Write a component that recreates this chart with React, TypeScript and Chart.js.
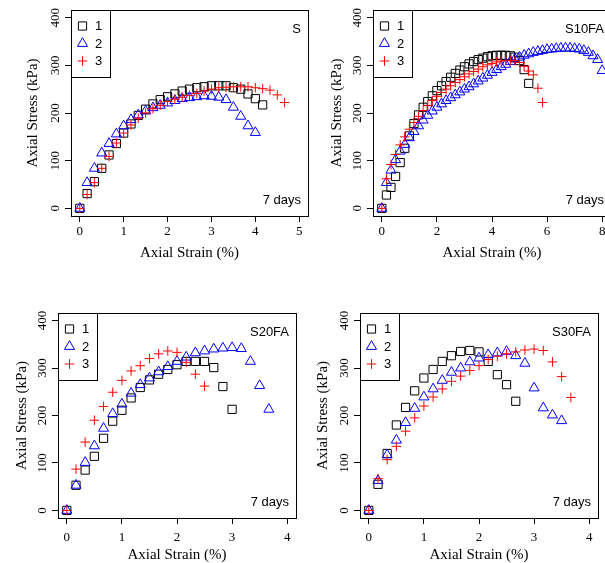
import React, { useEffect, useRef } from 'react';
import { Chart, registerables } from 'chart.js';

Chart.register(...registerables);

// ---------- DATA ----------
// strain readings (%), shared sampling step of the tests
const strainSteps = [0, 0.167, 0.333, 0.5, 0.667, 0.833, 1.0, 1.167, 1.333, 1.5, 1.667, 1.833, 2.0, 2.167, 2.333, 2.5, 2.667, 2.833, 3.0, 3.167, 3.333, 3.5, 3.667, 3.833, 4.0, 4.167, 4.333, 4.5, 4.667, 4.833, 5.0, 5.167, 5.333, 5.5, 5.667, 5.833, 6.0, 6.167, 6.333, 6.5, 6.667, 6.833, 7.0, 7.167, 7.333, 7.5, 7.667, 7.833, 8.0];

const seriesNames = ['1', '2', '3'];
const panelTitles = ['S', 'S10FA', 'S20FA', 'S30FA'];
const curingLabel = '7 days';
const xAxisTitle = 'Axial Strain (%)';
const yAxisTitle = 'Axial Stress (kPa)';

// axial stress (kPa)
const stressS_1 = [0, 31, 56, 84, 112, 136, 158, 177, 195, 208, 219, 228, 234, 240, 246, 250, 253, 255, 257, 257, 257, 253, 250, 240, 230, 217];
const stressS_2 = [0, 54, 84, 116, 136, 156, 173, 186, 196, 204, 211, 216, 221, 226, 230, 232, 234, 236, 235, 233, 228, 212, 193, 173, 159];
const stressS_3 = [0, 29, 54, 84, 109, 137, 158, 175, 189, 200, 209, 216, 224, 229, 233, 237, 241, 246, 250, 253, 254, 255, 255, 255, 253, 251, 248, 238, 222];

const stressS10FA_1 = [0, 28, 44, 67, 96, 126, 152, 178, 196, 212, 224, 236, 247, 257, 266, 275, 283, 290, 297, 303, 308, 312, 315, 318, 320, 321, 321, 321, 320, 317, 310, 291, 262];
const stressS10FA_2 = [0, 54, 80, 102, 120, 134, 148, 161, 173, 185, 195, 204, 212, 219, 226, 232, 238, 244, 250, 255, 261, 267, 273, 279, 285, 291, 297, 302, 308, 313, 317, 321, 324, 327, 329, 331, 333, 334, 335, 336, 336, 336, 335, 334, 331, 327, 320, 312, 289];
const stressS10FA_3 = [0, 62, 92, 113, 133, 150, 166, 180, 193, 205, 216, 226, 235, 243, 250, 257, 264, 270, 276, 282, 287, 292, 297, 301, 304, 307, 309, 310, 310, 310, 306, 298, 288, 280, 252, 222];

const stressS20FA_1 = [0, 53, 85, 114, 152, 188, 211, 237, 259, 275, 287, 297, 307, 314, 314, 314, 301, 261, 213];
const stressS20FA_2 = [0, 53, 101, 136, 173, 204, 224, 247, 265, 279, 292, 303, 314, 323, 332, 336, 340, 342, 343, 341, 314, 263, 213];
const stressS20FA_3 = [0, 87, 144, 190, 219, 249, 274, 294, 305, 320, 330, 336, 333, 312, 287, 262];

const stressS30FA_1 = [0, 55, 120, 180, 217, 252, 279, 297, 314, 326, 335, 337, 334, 314, 286, 265, 230];
const stressS30FA_2 = [0, 63, 117, 148, 185, 215, 239, 256, 274, 291, 300, 313, 321, 328, 332, 335, 326, 310, 258, 216, 201, 189];
const stressS30FA_3 = [0, 67, 107, 135, 167, 195, 220, 239, 256, 272, 283, 295, 305, 318, 325, 330, 334, 338, 340, 337, 313, 282, 238];

// tick labels
const yTicks = [0, 100, 200, 300, 400];
const xTicksS = [0, 1, 2, 3, 4, 5];
const xTicksS10FA = [0, 2, 4, 6, 8];
const xTicksS20FA = [0, 1, 2, 3, 4];
const xTicksS30FA = [0, 1, 2, 3, 4];

// axis ranges
const yRange = [-16, 416];
const xRangeS = [-0.2, 5.2];
const xRangeS10FA = [-0.32, 8.32];
const xRangeS20FA = [-0.16, 4.16];
const xRangeS30FA = [-0.16, 4.16];

// ---------- STYLE ----------
const SERIF = '"Liberation Serif", "Times New Roman", serif';
const SANS = '"Liberation Sans", Arial, Helvetica, sans-serif';

const seriesStyle = [
  { pointStyle: 'rect', color: '#000000', radius: 5.8 },
  { pointStyle: 'triangle', color: '#0000FF', radius: 5.8 },
  { pointStyle: 'cross', color: '#FF0000', radius: 4.8 },
];

type PanelCfg = {
  title: string;
  series: number[][];
  xTicks: number[];
  xRange: number[];
  left: number; top: number; w: number; h: number;
  yAxisW: number; xAxisH: number;
  padTop: number; padRight: number;
  yTitlePad: number; xTitlePad: number; xTickPad: number;
};

const panels: PanelCfg[] = [
  {
    title: panelTitles[0], series: [stressS_1, stressS_2, stressS_3], xTicks: xTicksS, xRange: xRangeS,
    left: 0, top: 0, w: 320, h: 280, yAxisW: 71, xAxisH: 64, padTop: 10, padRight: 12,
    yTitlePad: 24, xTitlePad: 18, xTickPad: 1.5,
  },
  {
    title: panelTitles[1], series: [stressS10FA_1, stressS10FA_2, stressS10FA_3], xTicks: xTicksS10FA, xRange: xRangeS10FA,
    left: 320, top: 0, w: 300, h: 280, yAxisW: 53, xAxisH: 64, padTop: 10, padRight: 9,
    yTitlePad: 8, xTitlePad: 18, xTickPad: 1.5,
  },
  {
    title: panelTitles[2], series: [stressS20FA_1, stressS20FA_2, stressS20FA_3], xTicks: xTicksS20FA, xRange: xRangeS20FA,
    left: 0, top: 280, w: 320, h: 290, yAxisW: 58, xAxisH: 52, padTop: 33, padRight: 24,
    yTitlePad: 13, xTitlePad: 6, xTickPad: 6,
  },
  {
    title: panelTitles[3], series: [stressS30FA_1, stressS30FA_2, stressS30FA_3], xTicks: xTicksS30FA, xRange: xRangeS30FA,
    left: 300, top: 280, w: 320, h: 290, yAxisW: 60, xAxisH: 52, padTop: 33, padRight: 22,
    yTitlePad: 14, xTitlePad: 6, xTickPad: 6,
  },
];

function drawSymbol(ctx: CanvasRenderingContext2D, style: string, x: number, y: number, r: number) {
  ctx.beginPath();
  if (style === 'rect') {
    const s = r * Math.SQRT1_2;
    ctx.rect(x - s, y - s, 2 * s, 2 * s);
  } else if (style === 'triangle') {
    const dx = r * Math.sin(Math.PI / 3);
    ctx.moveTo(x, y - r);
    ctx.lineTo(x + dx, y + r / 2);
    ctx.lineTo(x - dx, y + r / 2);
    ctx.closePath();
  } else {
    ctx.moveTo(x - r, y);
    ctx.lineTo(x + r, y);
    ctx.moveTo(x, y - r);
    ctx.lineTo(x, y + r);
  }
  ctx.stroke();
}

function makeDecor(title: string) {
  return {
    id: 'decor',
    afterDraw(chart: any) {
      const ctx: CanvasRenderingContext2D = chart.ctx;
      const { left, top, right, bottom } = chart.chartArea;
      const L = Math.round(left), T = Math.round(top), R = Math.round(right), B = Math.round(bottom);
      ctx.save();
      ctx.lineWidth = 1;
      ctx.strokeStyle = '#000';
      ctx.strokeRect(L + 0.5, T + 0.5, R - L, B - T);
      // legend box
      const bw = 39, bh = 67;
      ctx.fillStyle = '#fff';
      ctx.fillRect(L + 0.5, T + 0.5, bw, bh);
      ctx.strokeRect(L + 0.5, T + 0.5, bw, bh);
      const rows = [16, 33.5, 51];
      ctx.font = `13px ${SANS}`;
      ctx.textBaseline = 'middle';
      ctx.textAlign = 'left';
      seriesNames.forEach((nm, i) => {
        const st = seriesStyle[i];
        ctx.strokeStyle = st.color;
        drawSymbol(ctx, st.pointStyle, L + 11.5, T + rows[i], st.radius);
        ctx.fillStyle = '#000';
        ctx.fillText(nm, L + 24, T + rows[i] + 0.5);
      });
      // annotations
      ctx.fillStyle = '#000';
      ctx.textAlign = 'right';
      ctx.fillText(title, R - 7, T + 19);
      ctx.fillText(curingLabel, R - 7, B - 16);
      ctx.restore();
    },
  };
}

function Panel({ cfg }: { cfg: PanelCfg }) {
  const ref = useRef<HTMLCanvasElement>(null);
  useEffect(() => {
    const canvas = ref.current;
    if (!canvas) return;
    const datasets = cfg.series.map((vals, i) => ({
      label: seriesNames[i],
      data: vals.map((v, k) => ({ x: strainSteps[k], y: v })),
      pointStyle: seriesStyle[i].pointStyle as any,
      pointRadius: seriesStyle[i].radius,
      pointHoverRadius: seriesStyle[i].radius,
      pointBorderWidth: 1,
      borderColor: seriesStyle[i].color,
      pointBorderColor: seriesStyle[i].color,
      backgroundColor: 'rgba(0,0,0,0)',
      pointBackgroundColor: 'rgba(0,0,0,0)',
      showLine: false,
      order: 2 - i,
    }));
    const chart = new Chart(canvas, {
      type: 'scatter',
      data: { datasets },
      options: {
        responsive: false,
        animation: false,
        devicePixelRatio: 1,
        layout: { padding: { left: 0, top: cfg.padTop, right: cfg.padRight, bottom: 0 } },
        plugins: { legend: { display: false }, tooltip: { enabled: false } },
        events: [],
        scales: {
          x: {
            type: 'linear',
            position: 'bottom',
            min: cfg.xRange[0],
            max: cfg.xRange[1],
            afterBuildTicks: (s: any) => { s.ticks = cfg.xTicks.map((v) => ({ value: v })); },
            afterFit: (s: any) => { s.height = cfg.xAxisH; },
            grid: { display: true, drawOnChartArea: false, drawTicks: true, tickLength: 6, color: '#000', lineWidth: 1 },
            border: { display: true, color: '#000', width: 1 },
            ticks: {
              color: '#000', font: { family: SERIF, size: 13 }, padding: cfg.xTickPad,
              autoSkip: false, maxRotation: 0, minRotation: 0,
              callback: (v: any) => String(v),
            },
            title: {
              display: true, text: xAxisTitle, color: '#000',
              font: { family: SERIF, size: 15 }, padding: { top: 0, bottom: cfg.xTitlePad },
            },
          },
          y: {
            type: 'linear',
            position: 'left',
            min: yRange[0],
            max: yRange[1],
            afterBuildTicks: (s: any) => { s.ticks = yTicks.map((v) => ({ value: v })); },
            afterFit: (s: any) => { s.width = cfg.yAxisW; },
            grid: { display: true, drawOnChartArea: false, drawTicks: true, tickLength: 6, color: '#000', lineWidth: 1 },
            border: { display: true, color: '#000', width: 1 },
            ticks: {
              color: '#000', font: { family: SERIF, size: 13 }, padding: 0,
              autoSkip: false, minRotation: 90, maxRotation: 90, crossAlign: 'center',
              callback: (v: any) => String(v),
            },
            title: {
              display: true, text: yAxisTitle, color: '#000',
              font: { family: SERIF, size: 15 }, padding: { top: cfg.yTitlePad, bottom: 0 },
            },
          },
        },
      },
      plugins: [makeDecor(cfg.title)],
    } as any);
    return () => chart.destroy();
  }, []);
  return (
    <canvas
      ref={ref}
      width={cfg.w}
      height={cfg.h}
      style={{ position: 'absolute', left: cfg.left, top: cfg.top, width: cfg.w, height: cfg.h }}
    />
  );
}

export default function App() {
  return (
    <div style={{ position: 'fixed', left: 0, top: 0, width: 605, height: 563, overflow: 'hidden', background: '#fff' }}>
      {panels.map((p) => (
        <Panel key={p.title} cfg={p} />
      ))}
    </div>
  );
}
